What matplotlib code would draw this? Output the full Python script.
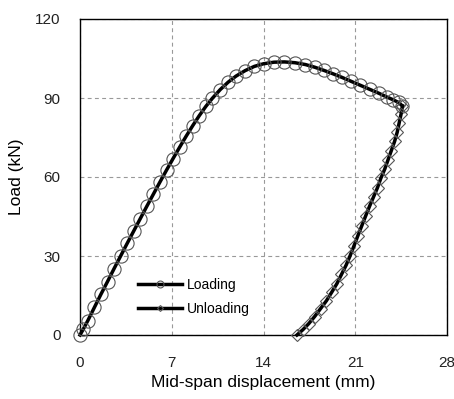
import matplotlib
matplotlib.use("Agg")
import matplotlib.pyplot as plt
from matplotlib.lines import Line2D

plt.rcParams['font.family'] = ['Liberation Sans', 'DejaVu Sans']

# Loading branch (mm, kN)
load_disp = [0, 0.25, 0.6, 1.1, 1.6, 2.1, 2.6, 3.1, 3.6, 4.1, 4.6, 5.1, 5.6, 6.1,
             6.6, 7.1, 7.6, 8.1, 8.6, 9.1, 9.6, 10.1, 10.7, 11.3, 11.9, 12.6, 13.3,
             14.0, 14.8, 15.6, 16.4, 17.2, 17.9, 18.6, 19.3, 20.0, 20.7, 21.4, 22.1,
             22.8, 23.4, 23.9, 24.3, 24.6]
load_force = [0, 2.2, 5.5, 10.5, 15.5, 20.3, 25.2, 30, 34.8, 39.5, 44.2, 48.9, 53.5,
              58.1, 62.6, 67, 71.3, 75.5, 79.5, 83.3, 86.8, 89.9, 93.2, 96, 98.3,
              100.4, 102, 103, 103.6, 103.7, 103.4, 102.7, 101.7, 100.5, 99.2, 97.8,
              96.3, 94.8, 93.3, 91.8, 90.4, 89.3, 88.3, 87]

# Unloading branch (mm, kN)
unload_disp = [24.6, 24.5, 24.35, 24.2, 24.0, 23.75, 23.5, 23.25, 22.95, 22.7, 22.4,
               22.1, 21.8, 21.5, 21.2, 20.9, 20.6, 20.3, 19.95, 19.6, 19.2, 18.8,
               18.35, 17.9, 17.45, 17.0, 16.55]
unload_force = [87, 84, 80.5, 77, 73.5, 70, 66.5, 63, 59.5, 56, 52.5, 49, 45.3, 41.5,
                37.7, 33.8, 30, 26.5, 23, 19.5, 16.2, 13, 10, 7, 4.3, 2, 0]

x_ticks = [0, 7, 14, 21, 28]
y_ticks = [0, 30, 60, 90, 120]

fig = plt.figure(figsize=(4.54, 3.99), dpi=100)
ax = fig.add_axes([80/454, 64/399, 367/454, 316/399])

ax.plot(load_disp, load_force, color='black', lw=2.5, marker='o', ms=9.5,
        mfc='none', mec='#555555', mew=0.8, clip_on=False, zorder=3)
ax.plot(unload_disp, unload_force, color='black', lw=2.5, marker='D', ms=6,
        mfc='none', mec='#555555', mew=0.8, clip_on=False, zorder=3)

ax.set_xlim(0, 28)
ax.set_ylim(0, 120)
ax.set_xticks(x_ticks)
ax.set_yticks(y_ticks)
ax.tick_params(length=0, labelsize=11, colors='#222222')
ax.tick_params(axis='x', pad=15)
ax.tick_params(axis='y', pad=14)
ax.grid(True, color='#999999', ls=(0, (3.5, 3)), lw=0.8)
ax.set_axisbelow(True)
for s in ax.spines.values():
    s.set_color('black')
    s.set_linewidth(1.0)

ax.set_xlabel('Mid-span displacement (mm)', fontsize=12.5, labelpad=4)
ax.set_ylabel('Load (kN)', fontsize=12.5, labelpad=8)

handles = [Line2D([], [], color='black', lw=2.5, marker='o', ms=5, mfc='none',
                  mec='#555555', mew=0.8),
           Line2D([], [], color='black', lw=2.5, marker='D', ms=3, mfc='none',
                  mec='#555555', mew=0.8)]
ax.legend(handles, ['Loading', 'Unloading'], loc='center left',
          bbox_to_anchor=(0.158, 0.12), frameon=False, fontsize=10,
          handlelength=3.2, handletextpad=0.35, borderpad=0, borderaxespad=0,
          labelspacing=0.7)

fig.savefig('out.png', dpi=100)
